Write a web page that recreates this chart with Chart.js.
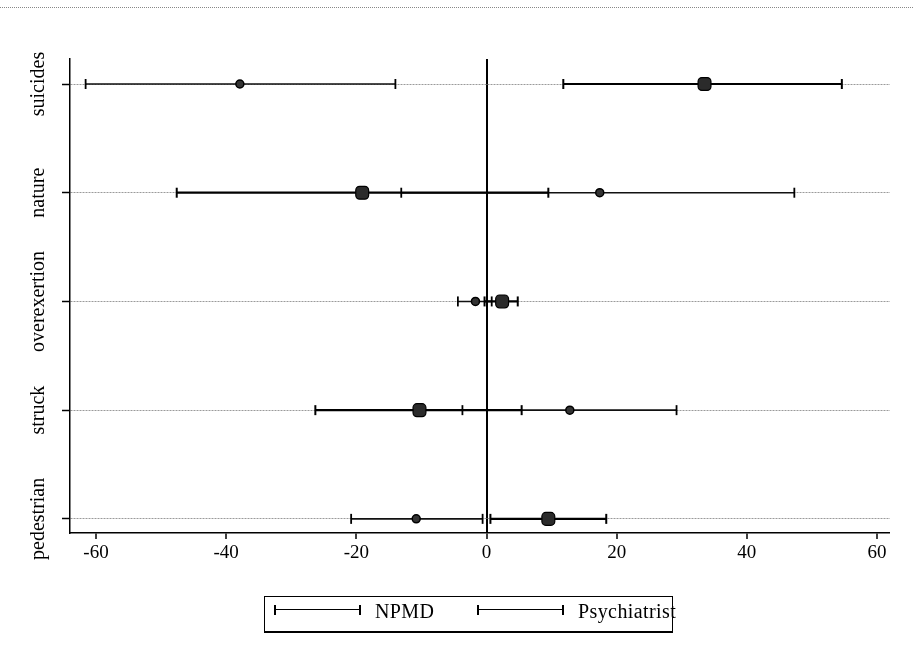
<!DOCTYPE html>
<html>
<head>
<meta charset="utf-8">
<script src="https://cdn.jsdelivr.net/npm/chart.js@4.4.1/dist/chart.umd.min.js"></script>
<style>
  html, body { margin: 0; padding: 0; background: #fff; }
  #wrap { position: relative; width: 913px; height: 656px; overflow: hidden; }
  #topline { position: absolute; left: 0; top: 7px; width: 913px; border-top: 1px dotted #888; }
  canvas { position: absolute; left: 0; top: 0; }
  #legend { position: absolute; left: 264px; top: 596px; width: 409px; height: 37px;
            border: 1px solid #000; border-bottom-width: 2px; box-sizing: border-box;
            font-family: "Liberation Serif", serif; font-size: 20px; color: #000; }
  .sample { position: absolute; top: 8px; width: 87px; height: 10px; box-sizing: border-box;
            border-left: 2px solid #000; border-right: 2px solid #000; }
  .sample::after { content: ''; position: absolute; left: 0; right: 0; top: 4px; border-top: 1.5px solid #000; }
  .ltxt { position: absolute; top: 3px; line-height: 22px; white-space: nowrap; letter-spacing: 0.4px; }
</style>
</head>
<body>
<div id="wrap">
  <div id="topline"></div>
  <canvas id="c" width="913" height="656"></canvas>
  <div id="legend"></div>
</div>
<script>
// ---- data ----
const categories = ['pedestrian', 'struck', 'overexertion', 'nature', 'suicides'];
const seriesNames = ['NPMD', 'Psychiatrist'];
const npmdEst = [-10.8, 12.8, -1.7, 17.4, -37.9];
const npmdLo  = [-20.8, -3.7, -4.4, -13.1, -61.6];
const npmdHi  = [-0.6, 29.2, 0.8, 47.3, -14.0];
const psyEst  = [9.5, -10.3, 2.4, -19.1, 33.5];
const psyLo   = [0.6, -26.3, -0.3, -47.6, 11.8];
const psyHi   = [18.4, 5.4, 4.8, 9.5, 54.6];
const xTicks  = [-60, -40, -20, 0, 20, 40, 60];

// ---- build datasets ----
function barData(lo, hi) {
  const out = [];
  categories.forEach((c, i) => {
    out.push({ x: lo[i], y: i }, { x: hi[i], y: i }, { x: null, y: null });
  });
  return out;
}
function pointData(est) {
  return categories.map((c, i) => ({ x: est[i], y: i }));
}

const datasets = [
  { label: seriesNames[1] + ' est', data: pointData(psyEst), pointStyle: 'rectRounded',
    pointRadius: 7.5, backgroundColor: '#2b2b2b', borderColor: '#000', borderWidth: 1.2, showLine: false },
  { label: seriesNames[0] + ' est', data: pointData(npmdEst), pointStyle: 'circle',
    pointRadius: 4, backgroundColor: '#333', borderColor: '#000', borderWidth: 1.5, showLine: false },
  { label: seriesNames[1], data: barData(psyLo, psyHi), showLine: true, spanGaps: false,
    borderColor: '#000', borderWidth: 2.2, pointStyle: 'line', pointRadius: 5, pointRotation: 90,
    pointBorderColor: '#000', pointBorderWidth: 2, backgroundColor: '#000' },
  { label: seriesNames[0], data: barData(npmdLo, npmdHi), showLine: true, spanGaps: false,
    borderColor: '#111', borderWidth: 1.6, pointStyle: 'line', pointRadius: 5, pointRotation: 90,
    pointBorderColor: '#000', pointBorderWidth: 1.8, backgroundColor: '#000' }
];

// ---- y category labels (rotated) ----
const yLabelPlugin = {
  id: 'yLabels',
  afterDraw(chart) {
    const ctx = chart.ctx, ys = chart.scales.y;
    ctx.save();
    ctx.fillStyle = '#000';
    ctx.font = '20px "Liberation Serif"';
    ctx.textAlign = 'center';
    ctx.textBaseline = 'middle';
    categories.forEach((c, i) => {
      const y = ys.getPixelForValue(i);
      ctx.save();
      ctx.translate(39, y);
      ctx.rotate(-Math.PI / 2);
      ctx.fillText(c, 0, 0);
      ctx.restore();
    });
    ctx.restore();
  }
};

new Chart(document.getElementById('c'), {
  type: 'scatter',
  data: { datasets },
  options: {
    responsive: false,
    animation: false,
    events: [],
    layout: { padding: { top: 59, right: 23, left: 0, bottom: 0 } },
    plugins: { legend: { display: false }, tooltip: { enabled: false } },
    scales: {
      x: {
        type: 'linear', min: -64, max: 62,
        afterBuildTicks: s => { s.ticks = xTicks.map(v => ({ value: v })); },
        afterFit: s => { s.height = 123; },
        grid: {
          color: ctx => (ctx.tick && ctx.tick.value === 0) ? '#000' : 'rgba(0,0,0,0)',
          lineWidth: ctx => (ctx.tick && ctx.tick.value === 0) ? 2 : 0,
          drawTicks: true, tickLength: 6, tickColor: '#000', tickWidth: 1.5
        },
        border: { display: true, color: '#000', width: 1.5 },
        ticks: { color: '#000', font: { family: 'Liberation Serif', size: 19 }, padding: 3,
                 maxRotation: 0, minRotation: 0, autoSkip: false,
                 callback: v => String(v) }
      },
      y: {
        type: 'linear', min: -0.13, max: 4.23,
        afterBuildTicks: s => { s.ticks = categories.map((c, i) => ({ value: i })); },
        afterFit: s => { s.width = 70; },
        grid: { color: '#9a9a9a', lineWidth: 1, drawTicks: true, tickLength: 8,
                tickColor: '#000', tickWidth: 1.5, tickBorderDash: [] },
        border: { display: true, color: '#000', width: 1.5, dash: [2, 1] },
        ticks: { display: false }
      }
    }
  },
  plugins: [yLabelPlugin]
});

// ---- legend (HTML) ----
const legend = document.getElementById('legend');
const legendPos = [{ s: 9, t: 110 }, { s: 212, t: 313 }];
seriesNames.forEach((n, i) => {
  const s = document.createElement('div');
  s.className = 'sample';
  s.style.left = legendPos[i].s + 'px';
  legend.appendChild(s);
  const t = document.createElement('div');
  t.className = 'ltxt';
  t.style.left = legendPos[i].t + 'px';
  t.textContent = n;
  legend.appendChild(t);
});
</script>
</body>
</html>
